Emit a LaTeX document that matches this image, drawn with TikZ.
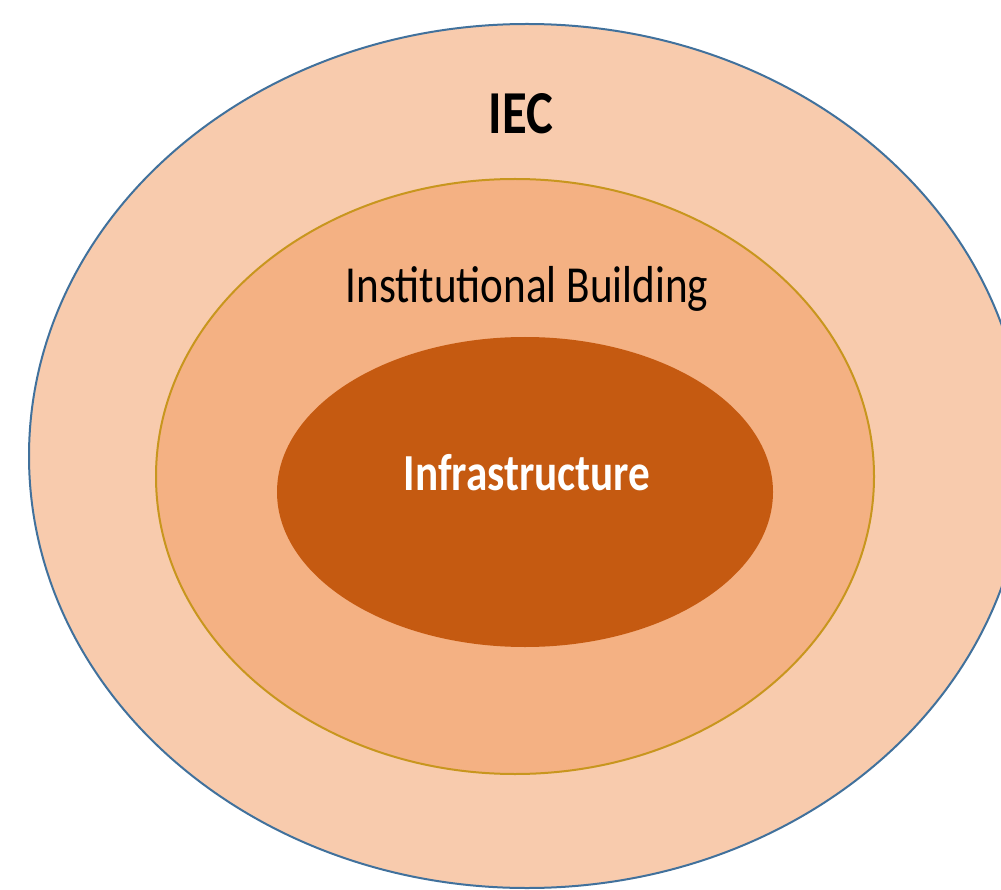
\documentclass[tikz,border=0pt]{standalone}
\usepackage{fontspec}
\setmainfont{Carlito}
\usetikzlibrary{backgrounds}
\definecolor{ringout}{HTML}{F8CBAD}
\definecolor{ringmid}{HTML}{F4B183}
\definecolor{ringin}{HTML}{C55A11}
\definecolor{lineout}{HTML}{41719C}
\definecolor{linemid}{HTML}{C8961E}
\tikzset{
  ringlabel/.style={anchor=base,inner sep=0pt,font=\fontsize{52}{60}\selectfont},
}
\newcommand{\squeeze}[1]{\scalebox{0.83}[1]{#1}}

\begin{document}
\begin{tikzpicture}[x=1pt,y=1pt]
      \useasboundingbox (0,0) rectangle (1001,-890);

      \draw[line width=2pt,fill=ringout,draw=lineout] (527,-456) ellipse (498 and 432);
      \draw[line width=2pt,fill=ringmid,draw=linemid] (515,-476.5) ellipse (359 and 297.5);
      \fill[ringin] (525,-492) ellipse (248 and 155);

      \node[ringlabel,font=\fontsize{61}{70}\selectfont] (iec) at (521,-134) {\squeeze{\textbf{IEC}}};
      \node[ringlabel] (inst) at (527,-303) {\squeeze{Institutional Building}};
      \node[ringlabel,text=white] (infra) at (527,-490) {\squeeze{\textbf{Infrastructure}}};
    \end{tikzpicture}
\end{document}
